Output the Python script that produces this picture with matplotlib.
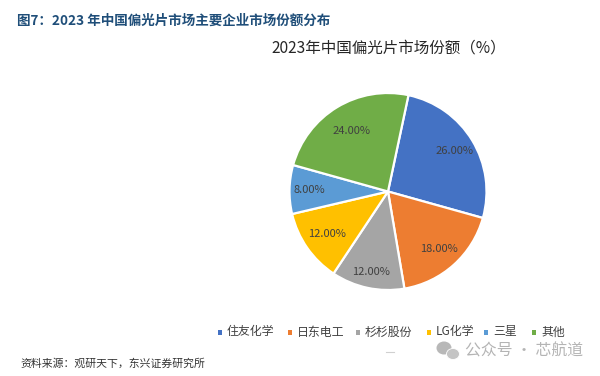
#!/usr/bin/env python3
import numpy as np
import matplotlib

matplotlib.use("Agg")
import matplotlib.pyplot as plt
from matplotlib.patches import Ellipse, Rectangle

plt.rcParams["font.family"] = ["Noto Sans CJK SC", "DejaVu Sans"]

companies = ["住友化学", "日东电工", "杉杉股份", "LG化学", "三星", "其他"]
shares = [26, 18, 12, 12, 8, 24]
colors = ["#4472C4", "#ED7D31", "#A5A5A5", "#FFC000", "#5B9BD5", "#70AD47"]
label_radius = [0.79, 0.78, 0.84, 0.76, 0.80, 0.72]
legend_x = [218, 288, 356, 427, 484, 532]

W, H = 600, 376
CX, CY, R = 388, 191.5, 98.5


def main() -> None:
    fig = plt.figure(figsize=(W / 100, H / 100), dpi=100)

    # full-figure axes in pixel coords for the text and legend
    bg = fig.add_axes([0, 0, 1, 1])
    bg.set_xlim(0, W)
    bg.set_ylim(H, 0)
    bg.axis("off")

    ax = fig.add_axes([(CX - R) / W, (H - CY - R) / H, 2 * R / W, 2 * R / H])
    wedges, _ = ax.pie(
        shares,
        colors=colors,
        startangle=78,
        counterclock=False,
        radius=1,
        wedgeprops={"edgecolor": "white", "linewidth": 1.6},
    )
    ax.set_xlim(-1, 1)
    ax.set_ylim(-1, 1)
    for wedge, share, r in zip(wedges, shares, label_radius):
        mid = np.deg2rad((wedge.theta1 + wedge.theta2) / 2)
        ax.text(r * np.cos(mid), r * np.sin(mid), f"{share:.2f}%",
                ha="center", va="center", fontsize=8, color="#404040")

    bg.text(17, 21, "图7：2023 年中国偏光片市场主要企业市场份额分布", fontsize=9.75,
            fontweight="bold", color="#1F4E79", va="center", ha="left")
    bg.text(389, 48, "2023年中国偏光片市场份额（%）", fontsize=11.2,
            color="#262626", va="center", ha="center")

    for name, color, x in zip(companies, colors, legend_x):
        bg.add_patch(Rectangle((x, 330), 4, 5, facecolor=color, edgecolor="none"))
        bg.text(x + 9, 332, name, fontsize=8.6, color="#404040", va="center", ha="left")
    bg.plot([386, 394], [352, 352], color="#D0D0D0", lw=0.8)

    bg.text(20, 363, "资料来源：观研天下，东兴证券研究所", fontsize=7.8, color="#333333",
            style="italic", va="center", ha="left")

    # watermark
    bg.add_patch(Ellipse((444, 348), 15, 13, facecolor="#B8B8B8", edgecolor="none"))
    bg.add_patch(Ellipse((453, 354), 13, 11, facecolor="#C4C4C4", edgecolor="white", linewidth=0.6))
    bg.text(465, 351, "公众号 · 芯航道", fontsize=11.4, color="#B4B4B4", va="center", ha="left")

    fig.savefig("out.png", dpi=100, facecolor="white")
    plt.close(fig)


if __name__ == "__main__":
    main()
